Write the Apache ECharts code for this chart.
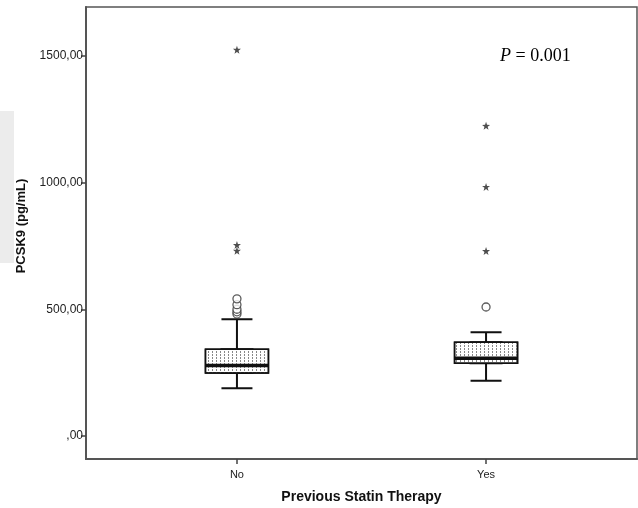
<!DOCTYPE html>
<html>
<head>
<meta charset="utf-8">
<script src="https://cdn.jsdelivr.net/npm/echarts@6/dist/echarts.min.js"></script>
<style>
  html, body { margin: 0; padding: 0; background: #fff; }
  #chart { width: 638px; height: 508px; }
</style>
</head>
<body>
<div id="chart"></div>
<script>
// groups on the x axis (positions 1 and 2)
const groups = ["No", "Yes"];
// [min, Q1, median, Q3, max] per group
const boxNo = [188, 248, 278, 342, 461];
const boxYes = [218, 287, 307, 370, 409];
// outliers (circles) and extremes (stars)
const circlesNo = [481, 490, 500, 518, 541];
const starsNo = [731, 754, 1524];
const circlesYes = [509];
const starsYes = [730, 983, 1224];
const yTicks = [0, 500, 1000, 1500];
const pText = "= 0.001";

const chart = echarts.init(document.getElementById("chart"));

const starPath =
  "path://M0,-10 L2.35,-3.24 9.51,-3.09 3.8,1.24 5.88,8.09 0,4 -5.88,8.09 -3.8,1.24 -9.51,-3.09 -2.35,-3.24Z";

const boxes = [boxNo, boxYes];
const fmtTick = (v) => (v === 0 ? ",00" : v + ",00");

function xAxisBase(show) {
  return {
    type: "value",
    min: 0.394,
    max: 2.606,
    show: show,
    splitLine: { show: false },
    axisLine: { show: show, onZero: false, lineStyle: { color: "#555", width: 2 } },
    axisTick: {
      show: show,
      customValues: [1, 2],
      length: 5,
      lineStyle: { color: "#444", width: 1.5 },
    },
    axisLabel: {
      show: show,
      customValues: [1, 2],
      formatter: (v) => groups[Math.round(v) - 1],
      color: "#222",
      fontFamily: "Liberation Sans",
      fontSize: 11,
      margin: 10,
    },
  };
}

const option = {
  animation: false,
  backgroundColor: "#fff",
  grid: {
    left: 86,
    right: 1,
    top: 7,
    bottom: 49,
    outerBoundsMode: "none",
    show: true,
    borderColor: "#555",
    borderWidth: 1.5,
  },
  xAxis: [
    Object.assign(xAxisBase(true), {
      name: "Previous Statin Therapy",
      nameLocation: "middle",
      nameGap: 31,
      nameTextStyle: {
        fontFamily: "Liberation Sans",
        fontWeight: "bold",
        fontSize: 14,
        color: "#111",
      },
    }),
    xAxisBase(false),
    xAxisBase(false),
  ],
  yAxis: {
    type: "value",
    min: -91,
    max: 1693,
    name: "PCSK9 (pg/mL)",
    nameLocation: "middle",
    nameGap: 58,
    nameTextStyle: {
      fontFamily: "Liberation Sans",
      fontWeight: "bold",
      fontSize: 13,
      color: "#111",
      padding: [0, 0, 0, 14],
    },
    splitLine: { show: false },
    axisLine: { show: true, lineStyle: { color: "#555", width: 2 } },
    axisTick: {
      show: true,
      customValues: yTicks,
      length: 5,
      lineStyle: { color: "#444", width: 1.5 },
    },
    axisLabel: {
      customValues: yTicks,
      formatter: fmtTick,
      color: "#222",
      fontFamily: "Liberation Sans",
      fontSize: 12,
      margin: 3,
    },
  },
  graphic: [
    {
      type: "rect",
      left: 0,
      top: 111,
      shape: { width: 14, height: 152 },
      style: { fill: "#ececec" },
      z: -1,
    },
    {
      type: "text",
      left: 500,
      top: 47,
      style: {
        text: "{i|P} " + pText,
        rich: {
          i: { fontStyle: "italic", fontFamily: "Liberation Serif", fontSize: 18, fill: "#000" },
        },
        fontFamily: "Liberation Serif",
        fontSize: 18,
        fill: "#000",
      },
    },
  ],
  series: [
    {
      // whiskers with half-width caps
      type: "boxplot",
      xAxisIndex: 1,
      boxWidth: [31, 31],
      z: 2,
      itemStyle: { color: "#fff", borderColor: "#111", borderWidth: 2 },
      data: boxes.map((b, i) => [i + 1].concat(b)),
    },
    {
      // stippled box
      type: "boxplot",
      xAxisIndex: 0,
      boxWidth: [63, 63],
      z: 3,
      itemStyle: {
        color: "#fff",
        borderColor: "#111",
        borderWidth: 1.5,
        decal: {
          symbol: "rect",
          symbolSize: 1,
          dashArrayX: [1, 3],
          dashArrayY: [2, 1],
          color: "#888",
        },
      },
      data: boxes.map((b, i) => [i + 1, b[1], b[1], b[2], b[3], b[3]]),
    },
    {
      // thick median
      type: "boxplot",
      xAxisIndex: 2,
      boxWidth: [63, 63],
      z: 4,
      itemStyle: { color: "#111", borderColor: "#111", borderWidth: 3.5 },
      data: boxes.map((b, i) => [i + 1, b[2], b[2], b[2], b[2], b[2]]),
    },
    {
      type: "scatter",
      xAxisIndex: 0,
      z: 5,
      symbol: "circle",
      symbolSize: 8,
      itemStyle: { color: "#fff", borderColor: "#333", borderWidth: 1.3 },
      data: circlesNo.map((v) => [1, v]).concat(circlesYes.map((v) => [2, v])),
    },
    {
      type: "scatter",
      xAxisIndex: 0,
      z: 5,
      symbol: starPath,
      symbolSize: 8,
      itemStyle: { color: "#222" },
      data: starsNo.map((v) => [1, v]).concat(starsYes.map((v) => [2, v])),
    },
  ],
};

chart.setOption(option);
</script>
</body>
</html>
